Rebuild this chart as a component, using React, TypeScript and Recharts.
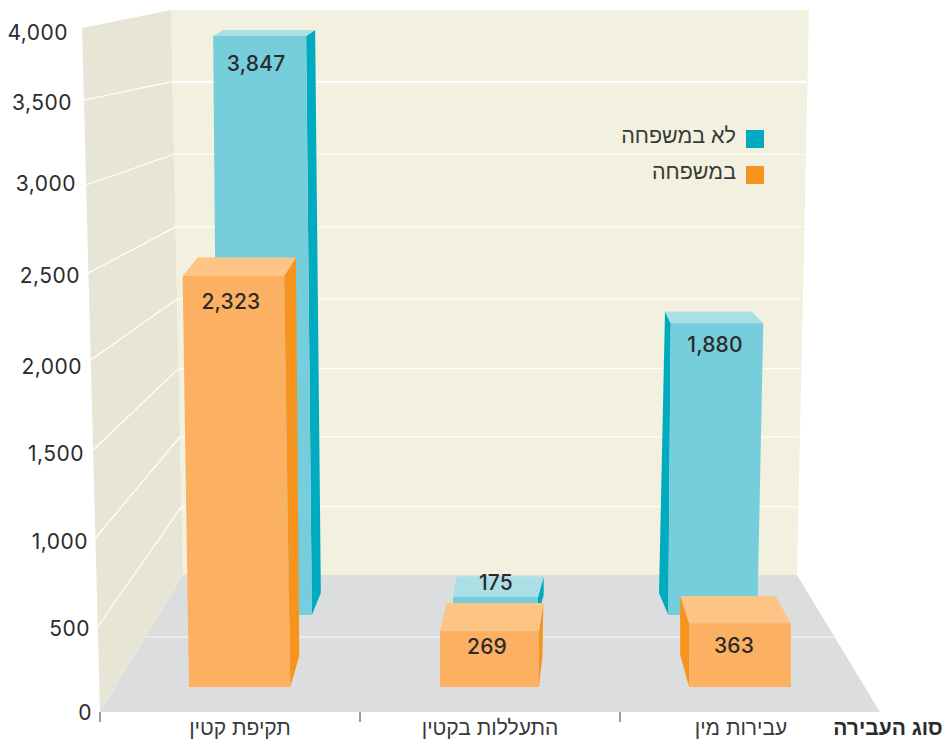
import React from "react";
import { BarChart, Bar, XAxis, YAxis, ReferenceLine, Legend, Customized } from "recharts";

// ---- data ----
const categories = ["תקיפת קטין", "התעללות בקטין", "עבירות מין"];
const notFamily = [3847, 175, 1880];
const family = [2323, 269, 363];
const leftTicks = [0, 500, 1000, 1500, 2000, 2500, 3000, 3500, 4000];
const wallTicks = [500, 1000, 1500, 2000, 2500, 3000, 3500];
const seriesNames = { back: "לא במשפחה", front: "במשפחה" };
const axisTitle = "סוג העבירה";

const chartData = categories.map((category, i) => ({
  category,
  notFamily: notFamily[i],
  family: family[i],
}));

// ---- layout (pixel baselines of the three planes of the perspective) ----
const W = 948, H = 743, PLOT_BOTTOM = 712;
const domainFor = (base: number, k: number): [number, number] => [(base - PLOT_BOTTOM) / k, base / k];
const frontDomain = domainFor(687, 0.1769);
const backDomain = domainFor(615, 0.1505);
const wallDomain = domainFor(575, 0.14125);
const LEFT_K = 0.171;
const leftDomain = domainFor(712, LEFT_K);

const C = {
  wall: "#F2F0DF", side: "#E7E6D6", floor: "#DCDDDF", line: "#FFFFFF", floorLine: "#EEEEEF",
  text: "#2B2B2B", label: "#3A3A3A",
  blue: { front: "#76CDDB", top: "#AADFE6", side: "#00ABC0" },
  orange: { front: "#FCB061", top: "#FDC585", side: "#F7941E" },
};
const NUM_FONT = "Inter, 'Liberation Sans', sans-serif";
const HEB_FONT = "'Liberation Sans', sans-serif";

// per-bar perspective
const frontStyle = [
  { dx: 9.6, w: 101.3, tl: -6.3, tr: -6, nudge: 0, depth: 18.5, bl: 15, br: 11.7, sx: 9, rise: 31, right: true, ldx: -2.5, ldy: 33 },
  { dx: -0.5, w: 99, tl: 0, tr: 0, nudge: -8.4, depth: 28, bl: 6.7, br: 4.3, sx: 3.5, rise: 32, right: true, ldx: -2.5, ldy: 23 },
  { dx: -10, w: 101.7, tl: 0, tr: 0, nudge: 0.5, depth: 27.3, bl: -9, br: -15.3, sx: -9, rise: 32, right: false, ldx: -6, ldy: 30 },
];
const backStyle = [
  { dx: 35, w: 93.7, tl: -5, tr: -5.7, nudge: 0, depth: 6, bl: 10, br: 9, sx: 9, rise: 22, right: true, ldx: -3.5, ldy: 35 },
  { dx: 5.5, w: 85, tl: 0, tr: 0, nudge: 8.3, depth: 20.5, bl: 3.7, br: 5.7, sx: 5.7, rise: 20, right: true, ldx: 0.5, ldy: -7 },
  { dx: -37.2, w: 89, tl: 2.4, tr: 6, nudge: -8.7, depth: 11.8, bl: -5.7, br: -11.6, sx: -9.3, rise: 22, right: false, ldx: -2, ldy: 29 },
];

const pts = (a: number[][]) => a.map((p) => p.join(",")).join(" ");

const makeBar = (styles: any[], col: any) => (props: any) => {
  const s = styles[props.index];
  const cx = props.x + props.width / 2 + s.dx;
  const yBase = props.y + props.height;
  const yTop = props.y + s.nudge;
  const L = cx - s.w / 2, R = cx + s.w / 2;
  const TL = L + s.tl, TR = R + s.tr;
  const yBack = yTop - s.depth;
  const side = s.right
    ? [[TR, yTop], [TR + s.br, yBack], [R + s.sx, yBase - s.rise], [R, yBase]]
    : [[TL, yTop], [TL + s.bl, yBack], [L + s.sx, yBase - s.rise], [L, yBase]];
  const value = props.value ?? 0;
  return (
    <g>
      <polygon points={pts(side)} fill={col.side} />
      <polygon points={pts([[TL, yTop], [TR, yTop], [TR + s.br, yBack], [TL + s.bl, yBack]])} fill={col.top} />
      <polygon points={pts([[TL, yTop], [TR, yTop], [R, yBase], [L, yBase]])} fill={col.front} />
      <text x={(TL + TR) / 2 + s.ldx} y={yTop + s.ldy} textAnchor="middle" fontFamily={NUM_FONT} fontSize={21} fontWeight={500} letterSpacing={0.2} fill={C.text}>
        {Number(value).toLocaleString("en-US")}
      </text>
    </g>
  );
};

const Backdrop = () => (
  <g>
    <polygon points="82,28 171,10 183,575 100,712" fill={C.side} />
    <polygon points="171,10 809,10 797,575 183,575" fill={C.wall} />
    <polygon points="183,575 797,575 880,712 100,712" fill={C.floor} />
    <line x1={145} x2={835} y1={637} y2={637} stroke={C.floorLine} strokeWidth={1.5} />
  </g>
);

// perspective corrections of the walls, px
const wallNudge: Record<number, number> = { 500: 2.3, 1000: 3, 1500: 5.4, 2000: 6.5, 2500: 5, 3000: 3, 3500: 1 };
const leftLineNudge: Record<number, number> = { 500: 0, 1000: -3, 1500: -5.5, 2000: -10, 2500: -11.5, 3000: -14, 3500: -13.5 };
const leftLabelNudge: Record<number, number> = { 0: 0, 500: 1.5, 1000: 0, 1500: -2.5, 2000: -4, 2500: -9.5, 3000: -16, 3500: -11.5, 4000: 4 };
const leftLabelEnd: Record<number, number> = { 0: 92, 500: 90, 1000: 88, 1500: 84, 2000: 82, 2500: 80, 3000: 76, 3500: 72, 4000: 68 };

const wallLine = (v: number) => (props: any) => {
  const y = props.y1 + wallNudge[v];
  const yLeft = PLOT_BOTTOM - LEFT_K * v + leftLineNudge[v];
  const xJoin = 171 + (12 * (y - 10)) / 565;
  const xRight = 806 - (12 * (y - 82)) / 565;
  const xLeft = 100 - (18 * (PLOT_BOTTOM - yLeft)) / 684;
  const sw = v === 3500 ? 2 : 1.2;
  return (
    <g>
      <line x1={xJoin} y1={y} x2={xRight} y2={y} stroke={C.line} strokeWidth={sw} />
      <line x1={xLeft} y1={yLeft} x2={xJoin} y2={y} stroke={C.line} strokeWidth={1.2} />
    </g>
  );
};

const LeftTick = (props: any) => {
  const v = props.payload.value;
  return (
    <text x={leftLabelEnd[v]} y={props.y + leftLabelNudge[v]} dominantBaseline="central" textAnchor="end" fontFamily={NUM_FONT} fontSize={21} letterSpacing={0.5} fill={C.text}>
      {Number(v).toLocaleString("en-US")}
    </text>
  );
};

const labelShift = [10, 0, -9];
const BAND = 260;
const CategoryTick = (props: any) => (
  <g>
    <line x1={props.x - BAND / 2} x2={props.x - BAND / 2} y1={PLOT_BOTTOM} y2={PLOT_BOTTOM + 10} stroke={C.label} strokeWidth={1} />
    <text x={props.x + labelShift[props.index]} y={735} textAnchor="middle" fontFamily={HEB_FONT} fontSize={21} fill={C.label}>
      {props.payload.value}
    </text>
  </g>
);

const AxisTitle = () => (
  <text x={888} y={735} textAnchor="middle" fontFamily={HEB_FONT} fontSize={21} fontWeight={700} fill={C.text}>
    {axisTitle}
  </text>
);

const LegendBox = (props: any) => (
  <div style={{ width: 160 }}>
    {(props.payload || []).map((e: any, i: number) => (
      <div key={i} dir="rtl" style={{ display: "flex", alignItems: "center", height: 36, fontFamily: HEB_FONT, fontSize: 21.5, color: C.label }}>
        <span style={{ width: 18, height: 18, background: e.color, marginLeft: 10, flex: "none", marginTop: 2 }} />
        <span style={{ marginTop: -4 }}>{e.value}</span>
      </div>
    ))}
  </div>
);

export default function App() {
  return (
    <div style={{ position: "absolute", left: 0, top: 0, width: W, height: H }}>
      <BarChart width={W} height={H} data={chartData} margin={{ top: 0, left: 99, right: 68, bottom: 0 }}>
        <Customized component={<Backdrop />} />
        <XAxis xAxisId="front" dataKey="category" height={31} axisLine={false} tickLine={false} interval={0} tick={<CategoryTick />} />
        <XAxis xAxisId="back" dataKey="category" hide />
        <YAxis yAxisId="left" width={1} domain={leftDomain} ticks={leftTicks} interval={0} axisLine={false} tickLine={false} tick={<LeftTick />} allowDataOverflow />
        <YAxis yAxisId="wall" hide domain={wallDomain} allowDataOverflow />
        <YAxis yAxisId="front" hide domain={frontDomain} allowDataOverflow />
        <YAxis yAxisId="back" hide domain={backDomain} allowDataOverflow />
        {wallTicks.map((v) => (
          <ReferenceLine key={v} yAxisId="wall" xAxisId="front" y={v} zIndex={0} shape={wallLine(v)} />
        ))}
        <Bar xAxisId="back" yAxisId="back" dataKey="notFamily" name={seriesNames.back} fill={C.blue.side} shape={makeBar(backStyle, C.blue)} isAnimationActive={false} />
        <Bar xAxisId="front" yAxisId="front" dataKey="family" name={seriesNames.front} fill={C.orange.side} shape={makeBar(frontStyle, C.orange)} isAnimationActive={false} />
        <Customized component={<AxisTitle />} />
        <Legend layout="vertical" align="center" verticalAlign="middle" itemSorter={null} content={<LegendBox />}
          wrapperStyle={{ position: "absolute", left: 604, top: 120, width: 160 }} />
      </BarChart>
    </div>
  );
}
